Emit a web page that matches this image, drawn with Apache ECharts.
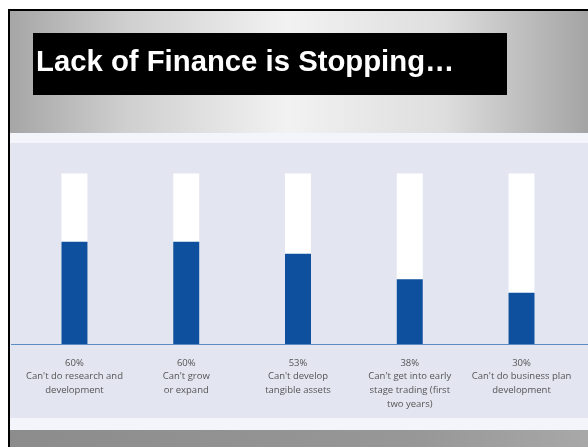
<!DOCTYPE html>
<html>
<head>
<meta charset="utf-8">
<script src="https://cdn.jsdelivr.net/npm/echarts@6/dist/echarts.min.js"></script>
<style>
  html, body { margin: 0; padding: 0; background: #ffffff; }
  #chart { width: 588px; height: 447px; }
</style>
</head>
<body>
<div id="chart"></div>
<script>
// Share of firms for which lack of finance blocks each activity (%)
const categories = [
  "Can't do research and\ndevelopment",
  "Can't grow\nor expand",
  "Can't develop\ntangible assets",
  "Can't get into early\nstage trading (first\ntwo years)",
  "Can't do business plan\ndevelopment"
];
const percentages = [60, 60, 53, 38, 30];
const titleText = 'Lack of Finance is Stopping…';

const chart = echarts.init(document.getElementById('chart'), null, { renderer: 'canvas' });

const labelFont = '"Open Sans", "Noto Sans", sans-serif';

chart.setOption({
  animation: false,
  backgroundColor: '#ffffff',
  graphic: [
    // slide frame
    { type: 'rect', z: -10, shape: { x: 8, y: 9, width: 580, height: 438 }, style: { fill: '#000000' } },
    {
      type: 'rect', z: -9, shape: { x: 10, y: 11, width: 578, height: 122 },
      style: {
        fill: new echarts.graphic.LinearGradient(0, 0, 1, 0, [
          { offset: 0, color: '#a6a6a6' },
          { offset: 0.2, color: '#cfcfcf' },
          { offset: 0.48, color: '#f2f2f2' },
          { offset: 0.75, color: '#dedede' },
          { offset: 1, color: '#a4a4a4' }
        ])
      }
    },
    { type: 'rect', z: -9, shape: { x: 10, y: 133, width: 578, height: 297 }, style: { fill: '#f4f5fa' } },
    { type: 'rect', z: -8, shape: { x: 10, y: 143, width: 578, height: 275 }, style: { fill: '#e3e5f1' } },
    {
      type: 'rect', z: -9, shape: { x: 10, y: 430, width: 578, height: 17 },
      style: {
        fill: new echarts.graphic.LinearGradient(0, 0, 1, 0, [
          { offset: 0, color: '#8c8c8c' },
          { offset: 0.7, color: '#979797' },
          { offset: 1, color: '#a8a8a8' }
        ])
      }
    },
    // title box
    { type: 'rect', z: 5, shape: { x: 33, y: 33, width: 474, height: 62 }, style: { fill: '#000000' } },
    {
      type: 'text', z: 6, left: 36, top: 48,
      style: {
        text: titleText,
        fill: '#ffffff',
        font: 'bold 29.3px "Liberation Sans", Arial, sans-serif'
      }
    },
    // baseline rule across the panel
    { type: 'line', z: 4, shape: { x1: 11, y1: 344.5, x2: 588, y2: 344.5 }, style: { stroke: '#5b8cc4', lineWidth: 1.2 } }
  ],
  grid: { left: 18.6, right: 10.6, top: 173.5, bottom: 103, containLabel: false },
  xAxis: {
    type: 'category',
    data: categories,
    axisLine: { show: false },
    axisTick: { show: false },
    axisLabel: {
      interval: 0,
      margin: 12,
      color: '#555555',
      fontFamily: labelFont,
      fontSize: 9.5,
      lineHeight: 13.7,
      formatter: function (name, idx) {
        return percentages[idx] + '%\n' + name;
      }
    }
  },
  yAxis: {
    type: 'value',
    min: 0,
    max: 100,
    show: false,
    splitLine: { show: false }
  },
  series: [{
    type: 'bar',
    data: percentages,
    barWidth: 26,
    itemStyle: { color: '#0e4f9e' },
    showBackground: true,
    backgroundStyle: { color: '#ffffff' }
  }]
});
</script>
</body>
</html>
